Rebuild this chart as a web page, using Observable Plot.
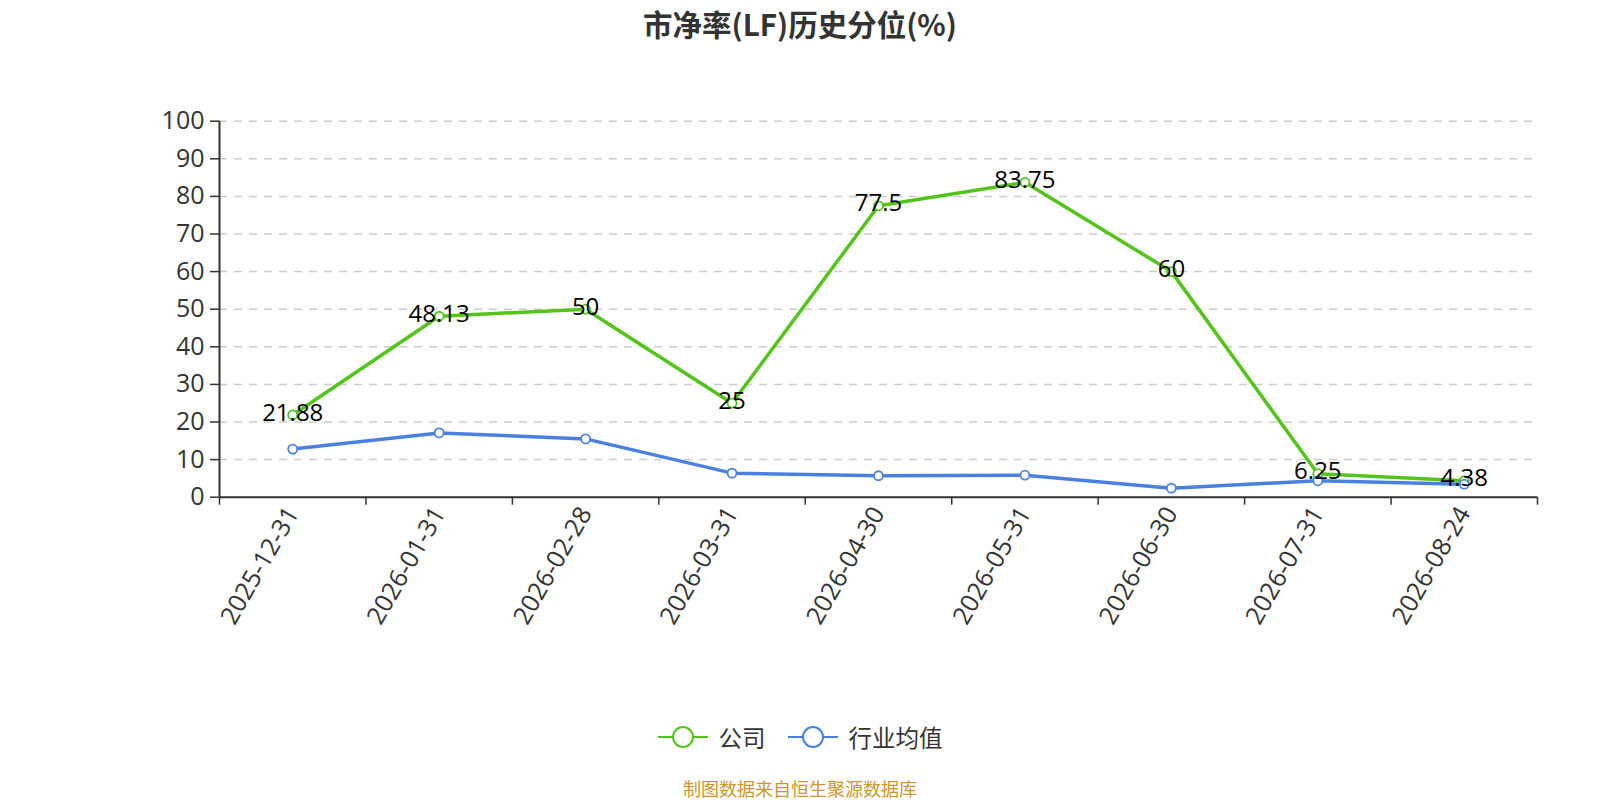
<!DOCTYPE html>
<html>
<head>
<meta charset="utf-8">
<script src="https://cdn.jsdelivr.net/npm/d3@7"></script>
<script src="https://cdn.jsdelivr.net/npm/@observablehq/plot@0.6"></script>
<style>
  html, body { margin: 0; padding: 0; background: #fff; }
  body { width: 1600px; height: 800px; position: relative; overflow: hidden;
         font-family: "Open Sans", "Noto Sans CJK SC", sans-serif; }
  #title { position: absolute; left: 0; top: 0; width: 1600px; height: 46px; line-height: 46px;
           text-align: center; font-size: 29.5px; font-weight: bold; color: #333;
           font-family: "Noto Sans CJK SC", sans-serif; }
  #chart { position: absolute; left: 0; top: 46px; }
  #unit { position: absolute; left: 147px; top: 146px; width: 20px; height: 20px; color: #f00;
          font-size: 17px; line-height: 20px; text-align: center; transform: rotate(-90deg);
          white-space: nowrap; }
  #legend { position: absolute; left: 0; top: 720px; width: 1600px; height: 34px;
            display: flex; justify-content: center; align-items: center; gap: 22px;
            font-family: "Noto Sans CJK SC", sans-serif; font-size: 23.5px; color: #333; }
  .item { display: flex; align-items: center; gap: 11px; }
  #footer { position: absolute; left: 0; top: 776px; width: 1600px; text-align: center;
            font-family: "Noto Sans CJK SC", sans-serif; font-size: 18px; color: #c9962f; line-height: 24px; }
</style>
</head>
<body>
<div id="title">市净率(LF)历史分位(%)</div>
<div id="unit">(%)</div>
<div id="chart"></div>
<div id="legend"></div>
<div id="footer">制图数据来自恒生聚源数据库</div>
<script>
const dates = ["2025-12-31","2026-01-31","2026-02-28","2026-03-31","2026-04-30","2026-05-31","2026-06-30","2026-07-31","2026-08-24"];
const company = [21.88, 48.13, 50, 25, 77.5, 83.75, 60, 6.25, 4.38];
const industry = [12.8, 17.1, 15.5, 6.4, 5.7, 5.85, 2.4, 4.36, 3.46];
const seriesNames = ["公司", "行业均值"];
const colors = ["#52c41a", "#4a80e0"];
const yTicks = [0, 10, 20, 30, 40, 50, 60, 70, 80, 90, 100];

const rowsA = dates.map((d, i) => ({i, date: d, value: company[i]}));
const rowsB = dates.map((d, i) => ({i, date: d, value: industry[i]}));
const idx = dates.map((d, i) => i);
const bounds = d3.range(-0.5, dates.length, 1);

const font = "'Open Sans', 'Noto Sans CJK SC', sans-serif";

const chart = Plot.plot({
  width: 1600,
  height: 594,
  marginTop: 74.7,
  marginBottom: 143.3,
  marginLeft: 219,
  marginRight: 63,
  style: {fontFamily: font, background: "white", overflow: "visible"},
  x: {type: "linear", domain: [-0.5, dates.length - 0.5]},
  y: {domain: [0, 100]},
  marks: [
    Plot.ruleY(yTicks.filter(v => v > 0), {stroke: "#ccc", strokeWidth: 1.5, strokeDasharray: "8,7"}),
    Plot.axisY({ticks: yTicks, tickSize: 9, tickPadding: 6, fontSize: 25, color: "#333", stroke: "#333", strokeWidth: 1.5, label: null}),
    Plot.axisX({ticks: bounds, tickSize: 8, tickFormat: () => "", stroke: "#333", strokeWidth: 1.5, label: null}),
    Plot.axisX({ticks: idx, tickSize: 0, tickPadding: 12, tickRotate: -60, tickFormat: i => dates[i], fontSize: 25, fill: "#333", label: null}),
    Plot.ruleX([-0.5], {stroke: "#333", strokeWidth: 2}),
    Plot.ruleY([0], {stroke: "#333", strokeWidth: 2}),
    Plot.line(rowsA, {x: "i", y: "value", stroke: colors[0], strokeWidth: 3.5}),
    Plot.line(rowsB, {x: "i", y: "value", stroke: colors[1], strokeWidth: 3.5}),
    Plot.dot(rowsA, {x: "i", y: "value", r: 4.5, fill: "white", stroke: colors[0], strokeWidth: 1.8}),
    Plot.dot(rowsB, {x: "i", y: "value", r: 4.5, fill: "white", stroke: colors[1], strokeWidth: 1.8}),
    Plot.text(rowsA, {x: "i", y: "value", text: d => String(d.value), fontSize: 24, fill: "#000", dy: -2})
  ]
});
document.getElementById("chart").appendChild(chart);

const legend = document.getElementById("legend");
seriesNames.forEach((name, k) => {
  const item = document.createElement("div");
  item.className = "item";
  item.innerHTML = `<svg width="50" height="24" viewBox="0 0 50 24"><line x1="0" y1="12" x2="50" y2="12" stroke="${colors[k]}" stroke-width="2"/><circle cx="25" cy="12" r="10" fill="white" stroke="${colors[k]}" stroke-width="2"/></svg><span>${name}</span>`;
  legend.appendChild(item);
});
</script>
</body>
</html>
